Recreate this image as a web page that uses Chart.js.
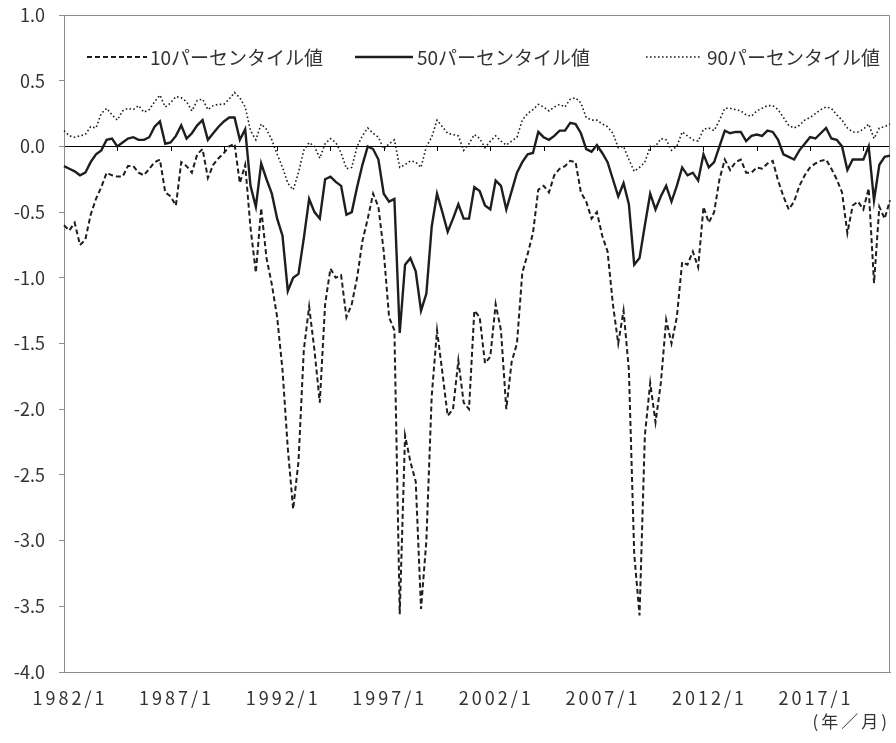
<!DOCTYPE html>
<html lang="ja">
<head>
<meta charset="utf-8">
<title>パーセンタイル値の推移</title>
<script src="https://cdn.jsdelivr.net/npm/chart.js@4.4.1/dist/chart.umd.min.js"></script>
<style>
  html, body { margin: 0; padding: 0; background: #fff; }
  #wrap { width: 896px; height: 743px; }
</style>
</head>
<body>
<div id="wrap"><canvas id="chart" width="896" height="743"></canvas></div>
<script>
// ── Data (quarterly, 1982/1 – 2020/10) ─────────────────────────────────────

const FIRST_YEAR = 1982;
const LAST_YEAR = 2020;
const MONTHS = [1, 4, 7, 10];

const CATEGORIES = [];
for (let y = FIRST_YEAR; y <= LAST_YEAR; y++) {
  MONTHS.forEach(m => CATEGORIES.push(`${y}/${m}`));
}

const TICK_LABELS = ['1982/1', '1987/1', '1992/1', '1997/1', '2002/1', '2007/1', '2012/1', '2017/1'];

const SERIES_NAMES = ['10パーセンタイル値', '50パーセンタイル値', '90パーセンタイル値'];

const P10 = [
  -0.60, -0.64, -0.58, -0.75,   -0.71, -0.52, -0.40, -0.31,   // 1982-83
  -0.20, -0.22, -0.23, -0.23,   -0.15, -0.15, -0.20, -0.22,   // 1984-85
  -0.17, -0.12, -0.10, -0.35,   -0.38, -0.45, -0.12, -0.15,   // 1986-87
  -0.20, -0.06, -0.02, -0.24,   -0.14, -0.09, -0.05,  0.00,   // 1988-89
   0.02, -0.28, -0.14, -0.62,   -0.96, -0.47, -0.85, -1.05,   // 1990-91
  -1.30, -1.70, -2.30, -2.76,   -2.40, -1.55, -1.22, -1.55,   // 1992-93
  -1.95, -1.20, -0.93, -1.00,   -0.98, -1.30, -1.20, -1.00,   // 1994-95
  -0.72, -0.55, -0.36, -0.46,   -0.80, -1.30, -1.40, -3.56,   // 1996-97
  -2.20, -2.40, -2.55, -3.52,   -3.00, -1.90, -1.40, -1.72,   // 1998-99
  -2.05, -2.00, -1.63, -1.95,   -2.00, -1.25, -1.30, -1.65,   // 2000-01
  -1.60, -1.20, -1.40, -2.00,   -1.64, -1.50, -0.96, -0.82,   // 2002-03
  -0.66, -0.33, -0.30, -0.35,   -0.22, -0.17, -0.15, -0.11,   // 2004-05
  -0.12, -0.35, -0.42, -0.55,   -0.50, -0.68, -0.80, -1.20,   // 2006-07
  -1.50, -1.25, -1.70, -3.10,   -3.57, -2.20, -1.80, -2.10,   // 2008-09
  -1.80, -1.32, -1.50, -1.30,   -0.88, -0.90, -0.80, -0.92,   // 2010-11
  -0.46, -0.58, -0.50, -0.25,   -0.10, -0.18, -0.12, -0.10,   // 2012-13
  -0.20, -0.20, -0.16, -0.17,   -0.13, -0.11, -0.26, -0.38,   // 2014-15
  -0.48, -0.42, -0.30, -0.22,   -0.16, -0.13, -0.11, -0.10,   // 2016-17
  -0.17, -0.25, -0.35, -0.66,   -0.45, -0.42, -0.48, -0.32,   // 2018-19
  -1.04, -0.46, -0.55, -0.41,                                 // 2020
];

const P50 = [
  -0.15, -0.17, -0.19, -0.22,   -0.20, -0.12, -0.06, -0.03,   // 1982-83
   0.05,  0.06,  0.00,  0.03,    0.06,  0.07,  0.05,  0.05,   // 1984-85
   0.07,  0.15,  0.19,  0.02,    0.03,  0.08,  0.16,  0.06,   // 1986-87
   0.10,  0.16,  0.20,  0.05,    0.10,  0.15,  0.19,  0.22,   // 1988-89
   0.22,  0.05,  0.13, -0.30,   -0.46, -0.13, -0.25, -0.36,   // 1990-91
  -0.55, -0.68, -1.10, -1.00,   -0.97, -0.70, -0.40, -0.50,   // 1992-93
  -0.55, -0.25, -0.23, -0.27,   -0.30, -0.52, -0.50, -0.31,   // 1994-95
  -0.14,  0.00, -0.02, -0.10,   -0.36, -0.42, -0.40, -1.42,   // 1996-97
  -0.90, -0.85, -0.95, -1.25,   -1.12, -0.61, -0.36, -0.50,   // 1998-99
  -0.65, -0.55, -0.44, -0.55,   -0.55, -0.31, -0.34, -0.45,   // 2000-01
  -0.48, -0.26, -0.30, -0.48,   -0.34, -0.20, -0.12, -0.06,   // 2002-03
  -0.05,  0.11,  0.07,  0.05,    0.08,  0.12,  0.12,  0.18,   // 2004-05
   0.17,  0.10, -0.02, -0.04,    0.01, -0.05, -0.12, -0.25,   // 2006-07
  -0.38, -0.28, -0.44, -0.90,   -0.85, -0.60, -0.36, -0.48,   // 2008-09
  -0.38, -0.30, -0.42, -0.30,   -0.16, -0.22, -0.20, -0.26,   // 2010-11
  -0.06, -0.16, -0.12,  0.00,    0.12,  0.10,  0.11,  0.11,   // 2012-13
   0.04,  0.08,  0.09,  0.08,    0.12,  0.11,  0.05, -0.06,   // 2014-15
  -0.08, -0.10, -0.03,  0.02,    0.07,  0.06,  0.10,  0.14,   // 2016-17
   0.06,  0.05,  0.00, -0.18,   -0.10, -0.10, -0.10,  0.00,   // 2018-19
  -0.41, -0.14, -0.08, -0.07,                                 // 2020
];

const P90 = [
   0.12,  0.08,  0.07,  0.08,    0.09,  0.15,  0.14,  0.25,   // 1982-83
   0.29,  0.24,  0.20,  0.27,    0.29,  0.28,  0.31,  0.26,   // 1984-85
   0.28,  0.34,  0.39,  0.30,    0.33,  0.38,  0.37,  0.34,   // 1986-87
   0.27,  0.35,  0.36,  0.28,    0.31,  0.32,  0.32,  0.36,   // 1988-89
   0.41,  0.37,  0.30,  0.12,    0.05,  0.17,  0.13,  0.05,   // 1990-91
  -0.06, -0.16, -0.28, -0.33,   -0.20, -0.03,  0.03,  0.00,   // 1992-93
  -0.09,  0.02,  0.06,  0.03,   -0.05, -0.17, -0.16,  0.00,   // 1994-95
   0.08,  0.14,  0.10,  0.07,   -0.02,  0.02,  0.05, -0.16,   // 1996-97
  -0.14, -0.11, -0.12, -0.16,    0.00,  0.07,  0.20,  0.15,   // 1998-99
   0.10,  0.09,  0.08, -0.03,    0.02,  0.09,  0.06, -0.01,   // 2000-01
   0.04,  0.08,  0.04,  0.01,    0.04,  0.07,  0.20,  0.25,   // 2002-03
   0.28,  0.32,  0.30,  0.27,    0.30,  0.32,  0.30,  0.36,   // 2004-05
   0.37,  0.33,  0.22,  0.20,    0.20,  0.17,  0.15,  0.10,   // 2006-07
  -0.01,  0.00, -0.10, -0.19,   -0.16, -0.12,  0.00,  0.00,   // 2008-09
   0.06,  0.05, -0.03,  0.00,    0.11,  0.08,  0.05,  0.04,   // 2010-11
   0.13,  0.14,  0.12,  0.20,    0.29,  0.29,  0.28,  0.27,   // 2012-13
   0.24,  0.23,  0.27,  0.29,    0.31,  0.31,  0.28,  0.22,   // 2014-15
   0.16,  0.14,  0.16,  0.20,    0.22,  0.25,  0.28,  0.30,   // 2016-17
   0.29,  0.24,  0.20,  0.14,    0.11,  0.11,  0.13,  0.17,   // 2018-19
   0.06,  0.14,  0.15,  0.17,                                 // 2020
];

const Y_MIN = -4.0;
const Y_MAX = 1.0;
const Y_STEP = 0.5;

// ── Styling ─────────────────────────────────────────────────────────────────

const FONT = "'Noto Sans CJK JP', 'Noto Sans', sans-serif";
const TEXT_COLOR = '#333';
const LINE_COLOR = '#1e1e1e';
const FRAME_COLOR = '#8c8c8c';
const X_LETTER_SPACING = '3px';   // the date labels are set quite loosely

Chart.defaults.font.family = FONT;
Chart.defaults.font.size = 18;
Chart.defaults.color = TEXT_COLOR;

// legend is drawn inside the plot area, like the original
const LEGEND_POS = [
  { x0: 87,  x1: 147, tx: 150 },
  { x0: 355, x1: 413, tx: 417 },
  { x0: 646, x1: 700, tx: 707 },
];
const LEGEND_Y = 57;

const framePlugin = {
  id: 'frame',
  beforeDraw(chart) {
    // loosen the x-axis text (labels + unit), leave the rest alone
    const xs = chart.scales.x;
    if (xs && !xs._spaced) {
      const wrap = fn => function (...args) {
        const c = this.ctx;
        c.save();
        c.letterSpacing = X_LETTER_SPACING;
        fn.apply(this, args);
        c.restore();
      };
      xs.drawLabels = wrap(xs.drawLabels);
      xs.drawTitle = wrap(xs.drawTitle);
      xs._spaced = true;
    }
  },
  beforeDatasetsDraw(chart) {
    const { ctx, chartArea: a, scales: { x, y } } = chart;
    ctx.save();
    ctx.strokeStyle = FRAME_COLOR;
    ctx.lineWidth = 1;
    ctx.beginPath();
    ctx.moveTo(a.left, a.top + 0.5);
    ctx.lineTo(a.right - 0.5, a.top + 0.5);
    ctx.lineTo(a.right - 0.5, a.bottom);
    ctx.stroke();

    // small tick marks hanging from the zero line, every 30 months
    const y0 = Math.round(y.getPixelForValue(0));
    ctx.strokeStyle = '#000';
    ctx.beginPath();
    for (let i = 10; i < CATEGORIES.length; i += 10) {
      const px = Math.round(x.getPixelForValue(i)) + 0.5;
      ctx.moveTo(px, y0);
      ctx.lineTo(px, y0 + 5);
    }
    ctx.stroke();
    ctx.restore();
  },
  afterDatasetsDraw(chart) {
    const { ctx } = chart;
    ctx.save();
    ctx.font = `19px ${FONT}`;
    ctx.textBaseline = 'middle';
    chart.data.datasets.forEach((ds, i) => {
      const p = LEGEND_POS[i];
      ctx.strokeStyle = ds.borderColor;
      ctx.lineWidth = ds.borderWidth;
      ctx.setLineDash(ds.borderDash || []);
      ctx.beginPath();
      ctx.moveTo(p.x0, LEGEND_Y);
      ctx.lineTo(p.x1, LEGEND_Y);
      ctx.stroke();
      ctx.fillStyle = TEXT_COLOR;
      ctx.fillText(ds.label, p.tx, LEGEND_Y + 1);
    });
    ctx.restore();
  },
};

// ── Chart ───────────────────────────────────────────────────────────────────

const ctx = document.getElementById('chart').getContext('2d');

new Chart(ctx, {
  type: 'line',
  data: {
    labels: CATEGORIES,
    datasets: [
      { label: SERIES_NAMES[0], data: P10, borderColor: LINE_COLOR, borderWidth: 2, borderDash: [5, 3] },
      { label: SERIES_NAMES[1], data: P50, borderColor: LINE_COLOR, borderWidth: 2.4 },
      { label: SERIES_NAMES[2], data: P90, borderColor: LINE_COLOR, borderWidth: 1.6, borderDash: [1.6, 2.4] },
    ],
  },
  options: {
    responsive: false,
    animation: false,
    events: [],
    layout: { padding: { left: 0, right: 6, top: 15, bottom: 0 } },
    elements: {
      point: { radius: 0 },
      line: { tension: 0, fill: false },
    },
    plugins: {
      legend: { display: false },
      tooltip: { enabled: false },
    },
    scales: {
      x: {
        type: 'category',
        offset: false,
        grid: { display: false, drawTicks: false },
        border: { display: true, color: FRAME_COLOR, width: 1 },
        ticks: {
          autoSkip: false,
          maxRotation: 0,
          padding: 15,
          labelOffset: 6,
          callback(value) {
            const lab = CATEGORIES[value];
            return TICK_LABELS.includes(lab) ? lab : '';
          },
        },
        title: {
          display: true,
          text: '(年／月)',
          align: 'end',
          padding: { top: 0, bottom: 11 },
          font: { size: 17 },
        },
        afterFit(scale) {
          scale.height = 71;
          scale.paddingLeft = 0;
          scale.paddingRight = 0;
        },
      },
      y: {
        min: Y_MIN,
        max: Y_MAX,
        grid: {
          color: c => (c.tick && c.tick.value === 0 ? '#000' : 'transparent'),
          tickColor: FRAME_COLOR,
          tickLength: 5,
          lineWidth: 1,
        },
        border: { display: true, color: FRAME_COLOR, width: 1 },
        ticks: {
          stepSize: Y_STEP,
          padding: 14,
          callback: v => Number(v).toFixed(1),
        },
        afterFit(scale) {
          scale.width = 64;
          scale.paddingTop = 0;
          scale.paddingBottom = 0;
        },
      },
    },
  },
  plugins: [framePlugin],
});
</script>
</body>
</html>
